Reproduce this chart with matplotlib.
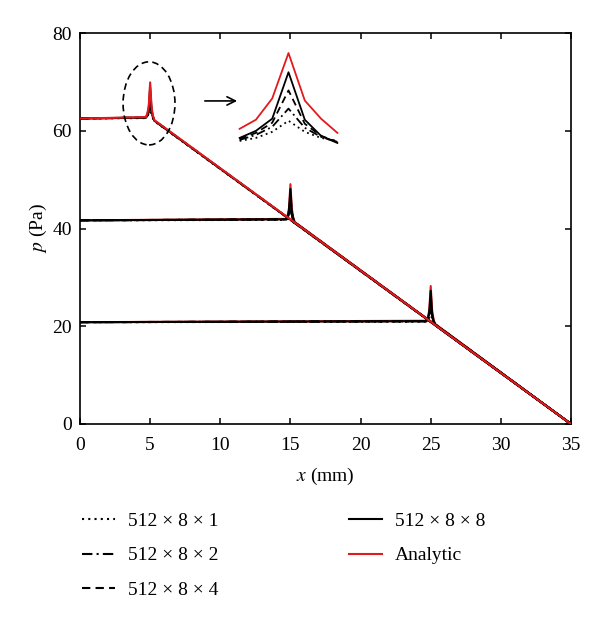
import numpy as np
import matplotlib
matplotlib.use('Agg')
import matplotlib.pyplot as plt
from matplotlib.patches import Ellipse

plt.rcParams['font.family'] = ['Liberation Serif', 'DejaVu Serif']
plt.rcParams['mathtext.fontset'] = 'stix'

# Data
x_jump = [5, 15, 25]            # position of each spike (mm)
p_plateau = [62.5, 41.67, 20.83]  # plateau pressure before each spike (Pa)
x_outlet = 35.0                 # pressure reaches 0 here (mm)

# spike shape around x_jump: offsets (mm) and excess pressure (Pa) per case
spike_dx = [-0.3, -0.2, -0.1, 0.0, 0.1, 0.2, 0.3]
spike_analytic = [0.3, 1.0, 2.6, 7.4, 2.6, 1.0, 0.3]
spike_x8 = [0.2, 0.8, 2.0, 6.4, 2.0, 0.8, 0.2]
spike_x4 = [0.2, 0.7, 1.6, 4.8, 1.6, 0.7, 0.2]
spike_x2 = [0.2, 0.6, 1.3, 3.4, 1.3, 0.6, 0.2]
spike_x1 = [0.1, 0.5, 1.0, 2.2, 1.0, 0.5, 0.1]

# zoomed view (inset) of the spike at x = 5
inset_i = [-3, -2, -1, 0, 1, 2, 3]
inset_analytic = [1.7, 2.6, 4.7, 9.2, 4.5, 2.7, 1.3]
inset_x8 = [0.8, 1.5, 2.7, 7.3, 2.6, 1.0, 0.3]
inset_x4 = [0.7, 1.3, 2.3, 5.5, 2.2, 1.0, 0.4]
inset_x2 = [0.6, 1.1, 1.9, 3.7, 1.8, 0.9, 0.4]
inset_x1 = [0.5, 0.8, 1.4, 2.5, 1.4, 0.8, 0.5]

labels = ['512 × 8 × 1', '512 × 8 × 2', '512 × 8 × 4', '512 × 8 × 8', 'Analytic']
styles = [(0, (1, 2)), (0, (5, 2, 1, 2)), (0, (4, 2.5)), '-', '-']
red = '#e31a1c'

cases = [spike_x1, spike_x2, spike_x4, spike_x8, spike_analytic]
inset_cases = [inset_x1, inset_x2, inset_x4, inset_x8, inset_analytic]

fig = plt.figure(figsize=(6.0, 6.19), dpi=100)
ax = fig.add_axes([80 / 600, 1 - 424 / 619, 491 / 600, 391 / 619])

handles = []
for k, (x0, p0) in enumerate(zip(x_jump, p_plateau)):
    base_x = [0.0, x0, x_outlet]
    base_p = [p0, p0, 0.0]
    xs = np.concatenate([[0.0], x0 + np.array(spike_dx), [x_outlet]])
    p_base = np.interp(xs, base_x, base_p)
    for j, exc in enumerate(cases):
        ps = p_base + np.concatenate([[0.0], exc, [0.0]])
        is_red = j == 4
        if k == 0:
            z = 5 if is_red else 3
        else:
            z = 2 if is_red else 3 + j * 0.1
        h, = ax.plot(xs, ps, color=red if is_red else 'black',
                     linestyle=styles[j], lw=1.5, zorder=z)
        if k == 0:
            handles.append(h)

ax.set_xlim(0, 35)
ax.set_ylim(0, 80)
ax.set_xticks(np.arange(0, 36, 5))
ax.set_yticks(np.arange(0, 81, 20))
ax.tick_params(direction='in', top=True, right=True, length=4, width=1.1,
               labelsize=14, pad=6)
ax.tick_params(axis='x', pad=9)
for s in ax.spines.values():
    s.set_linewidth(1.2)
ax.set_xlabel(r'$x$ (mm)', fontsize=14, labelpad=9)
ax.set_ylabel(r'$p$ (Pa)', fontsize=14, labelpad=2)

# dashed ellipse around the first spike and arrow to the zoomed view
ax.add_patch(Ellipse((4.92, 65.6), 3.7, 17.0, fill=False, ls=(0, (4, 2.5)),
                     lw=1.2, color='black', zorder=6))
ax.annotate('', xy=(11.4, 66.1), xytext=(8.7, 66.1),
            arrowprops=dict(arrowstyle='->', lw=1.2, color='black',
                            mutation_scale=15))

# inset
ins = fig.add_axes([238 / 600, 1 - 146 / 619, 101 / 600, 96 / 619])
for j, vals in enumerate(inset_cases):
    ins.plot(inset_i, vals, color=red if j == 4 else 'black',
             linestyle=styles[j], lw=1.3)
ins.set_xlim(-3.1, 3.1)
ins.set_ylim(0.0, 9.5)
ins.axis('off')

# legends
leg_kw = dict(frameon=False, fontsize=14, handlelength=1.7,
              handletextpad=0.65, labelspacing=0.88, borderpad=0,
              borderaxespad=0, loc='upper left')
leg1 = fig.legend(handles[:3], labels[:3],
                  bbox_to_anchor=(82 / 600, 1 - 512 / 619), **leg_kw)
leg2 = fig.legend(handles[3:], labels[3:],
                  bbox_to_anchor=(349 / 600, 1 - 512 / 619), **leg_kw)

fig.savefig('out.png', dpi=100)
